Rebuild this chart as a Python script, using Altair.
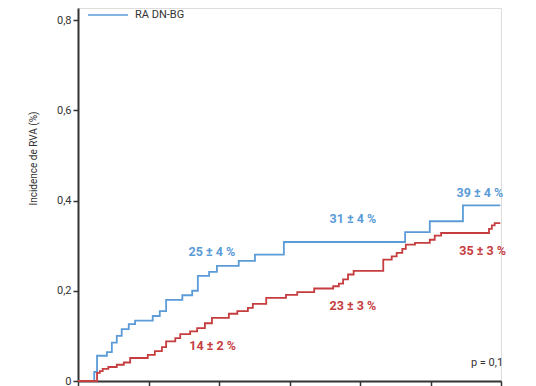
import altair as alt
import pandas as pd

# Step curves (x in axis units 0..6, y = cumulative incidence)
blue_x = [0, 0.23, 0.27, 0.41, 0.48, 0.55, 0.62, 0.72, 0.81, 1.06, 1.16, 1.25, 1.48, 1.62, 1.70,
          1.86, 1.97, 2.28, 2.51, 2.92, 4.64, 4.99, 5.46, 5.99]
blue_y = [0, 0.02, 0.056, 0.064, 0.085, 0.10, 0.115, 0.126, 0.134, 0.144, 0.155, 0.18, 0.19, 0.20, 0.233,
          0.242, 0.255, 0.266, 0.28, 0.308, 0.33, 0.354, 0.389, 0.389]

red_x = [0, 0.27, 0.31, 0.35, 0.43, 0.55, 0.65, 0.74, 0.99, 1.09, 1.19, 1.25, 1.38, 1.45, 1.59, 1.69,
         1.80, 1.90, 2.14, 2.26, 2.41, 2.48, 2.67, 2.95, 3.11, 3.35, 3.62, 3.70, 3.76, 3.83, 3.91,
         4.33, 4.45, 4.52, 4.60, 4.65, 4.78, 4.99, 5.06, 5.15, 5.83, 5.87, 5.91, 5.99]
red_y = [0, 0.018, 0.022, 0.027, 0.031, 0.036, 0.041, 0.051, 0.058, 0.066, 0.075, 0.088, 0.095, 0.104,
         0.11, 0.117, 0.128, 0.14, 0.149, 0.155, 0.162, 0.171, 0.184, 0.191, 0.197, 0.205, 0.21, 0.216,
         0.225, 0.236, 0.244, 0.269, 0.276, 0.284, 0.293, 0.302, 0.306, 0.313, 0.322, 0.328, 0.337,
         0.345, 0.35, 0.35]

series_names = ["RA DN-BG", "Autre"]
series_colors = ["#5a9bd8", "#c63d3f"]

ann_text = ["25 ± 4 %", "31 ± 4 %", "39 ± 4 %", "14 ± 2 %", "23 ± 3 %", "35 ± 3 %"]
ann_x = [1.90, 3.90, 5.70, 1.91, 3.90, 5.74]
ann_y = [0.285, 0.360, 0.4175, 0.077, 0.166, 0.287]
ann_series = ["RA DN-BG", "RA DN-BG", "RA DN-BG", "Autre", "Autre", "Autre"]

p_text = ["p = 0,1"]
p_x = [6.03]
p_y = [0.040]

yticks = [0, 0.2, 0.4, 0.6, 0.8]
xticks = [0, 1, 2, 3, 4, 5, 6]

curves = pd.concat([
    pd.DataFrame({"t": blue_x, "v": blue_y, "s": series_names[0], "o": range(len(blue_x))}),
    pd.DataFrame({"t": red_x, "v": red_y, "s": series_names[1], "o": range(len(red_x))}),
])
ann = pd.DataFrame({"t": ann_x, "v": ann_y, "s": ann_series, "label": ann_text})
pdf = pd.DataFrame({"t": p_x, "v": p_y, "label": p_text})

xscale = alt.Scale(domain=[0, 6], nice=False, zero=False)
yscale = alt.Scale(domain=[0, 0.8266], nice=False)
cscale = alt.Scale(domain=series_names, range=series_colors)

lines = alt.Chart(curves).mark_line(interpolate="step-after", strokeWidth=1.8).encode(
    x=alt.X("t:Q", scale=xscale,
            axis=alt.Axis(values=xticks, labels=False, title=None, tickSize=5, tickWidth=1.5,
                          domainWidth=2, domainColor="#333333", tickColor="#333333", grid=False)),
    y=alt.Y("v:Q", scale=yscale,
            axis=alt.Axis(values=yticks, title="Incidence de RVA (%)", tickSize=5, tickWidth=1.5,
                          domainWidth=2, domainColor="#333333", tickColor="#333333", grid=False,
                          format=".1~f",
                          labelExpr="replace(datum.label, '.', ',')", labelFont="Roboto",
                          labelFontSize=11, labelColor="#333333", labelPadding=2,
                          titleFont="Roboto", titleFontSize=10, titleFontWeight="normal",
                          titleColor="#333333", titleX=-45, titleY=150, titleAngle=270,
                          titleAlign="center", titleBaseline="middle")),
    color=alt.Color("s:N", scale=cscale,
                    legend=alt.Legend(values=["RA DN-BG"], orient="none", legendX=9, legendY=-14,
                                      title=None, symbolType="stroke", symbolSize=1600,
                                      symbolStrokeWidth=1.5, labelFont="Roboto", labelFontSize=11,
                                      labelColor="#333333", padding=0, labelOffset=6)),
    order="o:Q",
)

texts = alt.Chart(ann).mark_text(font="Roboto", fontSize=12.5, fontWeight="bold").encode(
    x=alt.X("t:Q", scale=xscale), y=alt.Y("v:Q", scale=yscale),
    text="label:N",
    color=alt.Color("s:N", scale=cscale, legend=None),
)

ptext = alt.Chart(pdf).mark_text(font="Roboto", fontSize=11, align="right", color="#333333").encode(
    x=alt.X("t:Q", scale=xscale), y=alt.Y("v:Q", scale=yscale), text="label:N",
)

chart = alt.layer(lines, texts, ptext).properties(
    width=423, height=373,
    autosize=alt.AutoSizeParams(type="none"),
    padding={"left": 70, "top": 0, "right": 27, "bottom": 5},
).configure_view(stroke=None).configure(background="white")

chart.save("out.html", embed_options={"renderer": "svg", "actions": False})
